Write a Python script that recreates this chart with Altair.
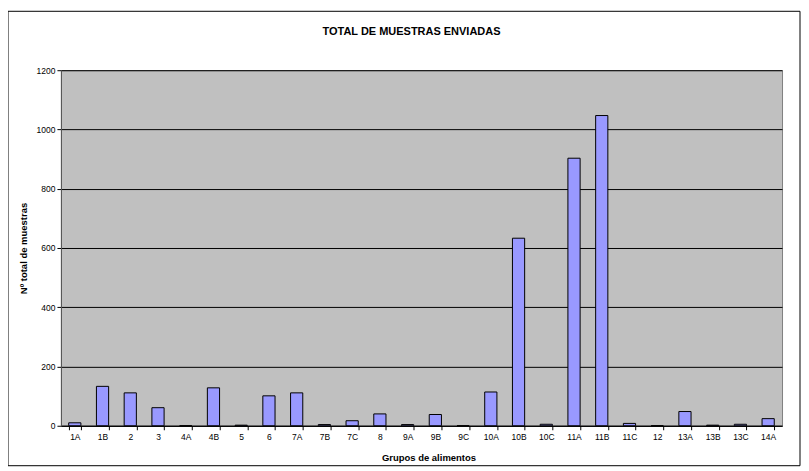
import altair as alt
import pandas as pd

grupos = ["1A", "1B", "2", "3", "4A", "4B", "5", "6", "7A", "7B", "7C", "8", "9A",
          "9B", "9C", "10A", "10B", "10C", "11A", "11B", "11C", "12", "13A", "13B",
          "13C", "14A"]
muestras = [10, 133, 111, 61, 0, 128, 2, 101, 111, 4, 17, 40, 4,
            38, 0, 114, 633, 5, 903, 1047, 8, 0, 48, 2,
            5, 24]
y_ticks = [0, 200, 400, 600, 800, 1000, 1200]

df = pd.DataFrame({"grupo": grupos, "n": muestras})
FONT = "Liberation Sans"

x_enc = alt.X(
    "grupo:N", sort=grupos,
    scale=alt.Scale(paddingInner=0.56, paddingOuter=0.28),
    axis=alt.Axis(
        title="Grupos de alimentos", titleFont=FONT, titleFontSize=9.5,
        titleFontWeight="bold", titleColor="black", titleX=368, titleY=32,
        titleBaseline="middle",
        labelAngle=0, labelFont=FONT, labelFontSize=8.5, labelColor="black",
        labelPadding=3, tickSize=4, tickColor="black", tickBand="extent",
        domainColor="black", grid=False,
    ),
)
y_enc = alt.Y(
    "n:Q",
    scale=alt.Scale(domain=[0, 1200], nice=False),
    axis=alt.Axis(
        values=y_ticks, format="d", title="Nº total de muestras", titleFont=FONT,
        titleFontSize=9.5, titleFontWeight="bold", titleColor="black",
        titleX=-37, titleY=178, titleAngle=270, titleAlign="center",
        titleBaseline="middle",
        labelFont=FONT, labelFontSize=8.5, labelColor="black", labelPadding=2,
        tickSize=4, tickColor="black", domainColor="#555555",
        grid=True, gridColor="black", gridWidth=1, gridOpacity=1,
    ),
)

bars = alt.Chart(df).mark_bar(
    color="#9999FF", stroke="#000000", strokeWidth=1
).encode(x=x_enc, y=y_enc)

frame = alt.Chart(pd.DataFrame({"k": [0]})).mark_rect(
    filled=False, stroke="black", strokeWidth=1
).encode(
    x=alt.value(-53), x2=alt.value(740), y=alt.value(-59), y2=alt.value(396)
)

chart = alt.layer(frame, bars).properties(
    width=722, height=356,
    background="white",
    title=alt.TitleParams(
        "TOTAL DE MUESTRAS ENVIADAS", font=FONT, fontSize=11,
        fontWeight="bold", color="black", anchor="middle", dx=-10, offset=-26,
    ),
    autosize=alt.AutoSizeParams(type="none"),
    padding={"left": 53, "top": 62, "right": 19, "bottom": 41},
).configure_view(
    fill="#C0C0C0", stroke="#808080", strokeWidth=1
)

chart.save("out.html", embed_options={"renderer": "svg", "actions": False})
